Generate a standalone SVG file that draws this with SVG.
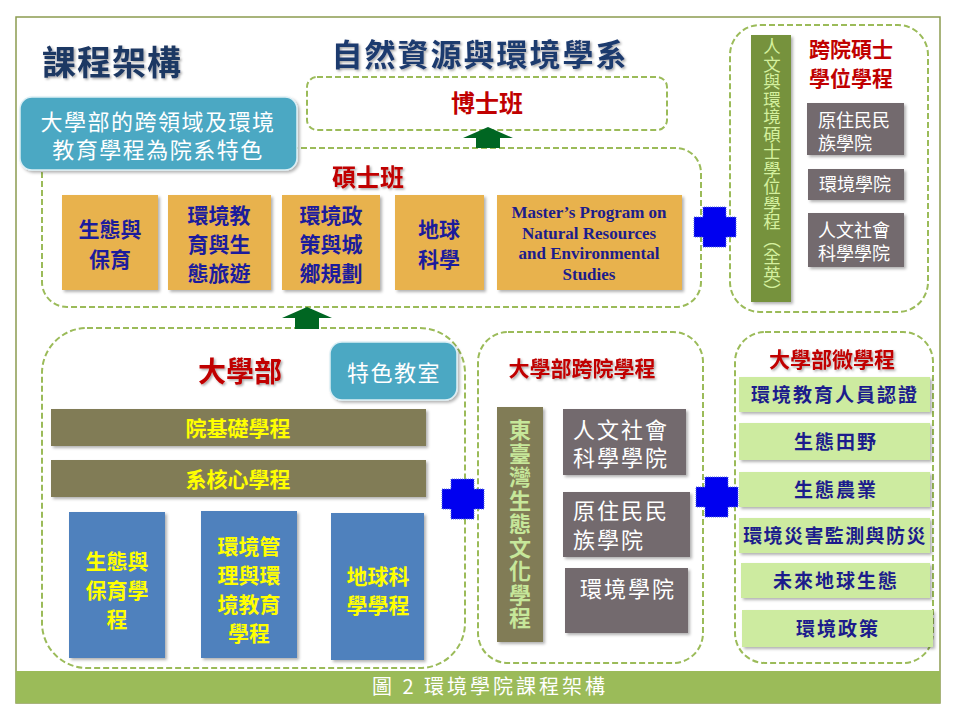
<svg xmlns="http://www.w3.org/2000/svg" width="960" height="720" viewBox="0 0 960 720">
<defs>
<filter id="sh" x="-10%" y="-10%" width="130%" height="130%">
<feDropShadow dx="2" dy="2" stdDeviation="1.5" flood-color="#000" flood-opacity="0.3"/>
</filter>
<filter id="tsh" x="-10%" y="-20%" width="130%" height="150%">
<feDropShadow dx="1.5" dy="1.5" stdDeviation="1" flood-color="#000" flood-opacity="0.35"/>
</filter>
<path id="plus" d="M-21,-10 H-12 V-20 H11 V-10 H21 V10 H11 V20 H-12 V10 H-21 Z"/>
</defs>
<style>
text{font-family:"Noto Sans CJK TC","Noto Sans CJK SC",sans-serif}
.dash{fill:#fff;stroke:#9BBB59;stroke-width:2;stroke-dasharray:6 3}
.red{fill:#C00000;font-weight:bold;text-anchor:middle}
.org{fill:#E8B24E;filter:url(#sh)}
.ot{fill:#1C1C9C;font-size:21px;font-weight:bold;text-anchor:middle}
.mt{fill:#1C1C8C;font-family:"Liberation Serif",serif;font-size:17px;font-weight:bold;text-anchor:middle}
.gray{fill:#736A6E;filter:url(#sh)}
.wt{fill:#fff}
.olive{fill:#817C57;filter:url(#sh)}
.blue{fill:#4F81BD;filter:url(#sh)}
.yt{fill:#FFFF00;font-weight:bold;font-size:21px;text-anchor:middle}
.lg{fill:#CDEBA0;filter:url(#sh)}
.lt{fill:#1C1C8C;font-weight:bold;text-anchor:middle;font-size:19px}
.cyan{fill:#4BA8C3;stroke:#DDEFF5;stroke-width:1.5;filter:url(#sh)}
.pl{fill:#0000F0;stroke:#5A6EE0;stroke-width:1;stroke-dasharray:1 1}
.arr{fill:#006622}
</style>
<rect width="960" height="720" fill="#fff"/>
<rect x="16" y="17" width="924" height="686" fill="#fff" stroke="#8C9C50" stroke-width="1.5"/>
<rect x="16" y="671" width="924" height="32" fill="#9BBB59"/>
<text x="490" y="694" font-size="20" fill="#fff" text-anchor="middle" letter-spacing="3">圖 2 環境學院課程架構</text>

<g id="title">
<text x="42" y="75" font-size="34" font-weight="bold" fill="#1F3864" filter="url(#tsh)" letter-spacing="1">課程架構</text>
<text x="480" y="66" font-size="31" font-weight="bold" fill="#1F3A6E" text-anchor="middle" letter-spacing="2" filter="url(#tsh)">自然資源與環境學系</text>
</g>

<g id="phd">
<rect class="dash" x="307" y="77" width="360" height="53" rx="10"/>
<text class="red" x="487" y="112" font-size="24">博士班</text>
</g>

<g id="master">
<rect class="dash" x="42" y="148" width="659" height="159" rx="25"/>
<text class="red" x="368" y="186" font-size="24" filter="url(#tsh)">碩士班</text>
<g id="m1"><rect class="org" x="62" y="195" width="96" height="95"/>
<text class="ot" x="110" y="237">生態與</text><text class="ot" x="110" y="267">保育</text></g>
<g id="m2"><rect class="org" x="168" y="195" width="103" height="95"/>
<text class="ot" x="219" y="223">環境教</text><text class="ot" x="219" y="252">育與生</text><text class="ot" x="219" y="281">態旅遊</text></g>
<g id="m3"><rect class="org" x="282" y="195" width="98" height="95"/>
<text class="ot" x="331" y="223">環境政</text><text class="ot" x="331" y="252">策與城</text><text class="ot" x="331" y="281">鄉規劃</text></g>
<g id="m4"><rect class="org" x="395" y="195" width="89" height="95"/>
<text class="ot" x="439" y="237">地球</text><text class="ot" x="439" y="267">科學</text></g>
<g id="m5"><rect class="org" x="497" y="195" width="185" height="95"/>
<text class="mt" x="589" y="218">Master’s Program on</text><text class="mt" x="589" y="239">Natural Resources</text><text class="mt" x="589" y="259">and Environmental</text><text class="mt" x="589" y="280">Studies</text></g>
</g>

<g id="callout">
<rect class="cyan" x="20" y="97" width="277" height="73" rx="12"/>
<text x="158" y="130" font-size="22" fill="#fff" text-anchor="middle" letter-spacing="1.5">大學部的跨領域及環境</text>
<text x="158" y="158" font-size="22" fill="#fff" text-anchor="middle" letter-spacing="1.5">教育學程為院系特色</text>
</g>

<g id="crossmaster">
<rect class="dash" x="730" y="25" width="198" height="287" rx="30"/>
<rect x="751" y="35" width="40" height="267" fill="#76923C" filter="url(#sh)"/>
<text x="772" y="38" font-size="17.5" fill="#D4F09E" writing-mode="vertical-rl">人文與環境碩士學位學程（全英）</text>
<text class="red" x="851" y="57" font-size="21">跨院碩士</text>
<text class="red" x="851" y="86" font-size="21">學位學程</text>
<g id="c1"><rect class="gray" x="807" y="103" width="97" height="52"/>
<text class="wt" x="818" y="127" font-size="18">原住民民</text><text class="wt" x="818" y="150" font-size="18">族學院</text></g>
<g id="c2"><rect class="gray" x="808" y="169" width="96" height="31"/>
<text class="wt" x="819" y="191" font-size="18">環境學院</text></g>
<g id="c3"><rect class="gray" x="808" y="213" width="96" height="54"/>
<text class="wt" x="818" y="237" font-size="18">人文社會</text><text class="wt" x="818" y="260" font-size="18">科學學院</text></g>
</g>

<g id="undergrad">
<rect class="dash" x="42" y="328" width="423" height="340" rx="45"/>
<text class="red" x="240" y="382" font-size="28" filter="url(#tsh)">大學部</text>
<g id="classroom"><rect class="cyan" x="330" y="342" width="127" height="58" rx="12"/>
<text x="394" y="381" font-size="22" fill="#fff" text-anchor="middle" letter-spacing="1.5">特色教室</text></g>
<g id="u1"><rect class="olive" x="51" y="409" width="375" height="37"/><text class="yt" x="238" y="436">院基礎學程</text></g>
<g id="u2"><rect class="olive" x="51" y="460" width="375" height="37"/><text class="yt" x="238" y="487">系核心學程</text></g>
<g id="u3"><rect class="blue" x="69" y="512" width="96" height="146"/>
<text class="yt" x="117" y="569" font-size="22">生態與</text><text class="yt" x="117" y="598" font-size="22">保育學</text><text class="yt" x="117" y="627" font-size="22">程</text></g>
<g id="u4"><rect class="blue" x="201" y="511" width="96" height="147"/>
<text class="yt" x="249" y="554" font-size="22">環境管</text><text class="yt" x="249" y="583" font-size="22">理與環</text><text class="yt" x="249" y="612" font-size="22">境教育</text><text class="yt" x="249" y="641" font-size="22">學程</text></g>
<g id="u5"><rect class="blue" x="331" y="513" width="93" height="147"/>
<text class="yt" x="378" y="584" font-size="22">地球科</text><text class="yt" x="378" y="613" font-size="22">學學程</text></g>
</g>

<g id="crossug">
<rect class="dash" x="478" y="332" width="225" height="331" rx="30"/>
<text class="red" x="582" y="376" font-size="21" filter="url(#tsh)">大學部跨院學程</text>
<rect class="olive" x="497" y="407" width="46" height="235"/>
<text x="520" y="419" font-size="22" fill="#C6E79A" font-weight="bold" letter-spacing="1.5" writing-mode="vertical-rl">東臺灣生態文化學程</text>
<g id="x1"><rect class="gray" x="563" y="409" width="123" height="66"/>
<text class="wt" x="573" y="438" font-size="22" letter-spacing="2">人文社會</text><text class="wt" x="573" y="466" font-size="22" letter-spacing="2">科學學院</text></g>
<g id="x2"><rect class="gray" x="563" y="492" width="127" height="65"/>
<text class="wt" x="573" y="519" font-size="22" letter-spacing="2">原住民民</text><text class="wt" x="573" y="548" font-size="22" letter-spacing="2">族學院</text></g>
<g id="x3"><rect class="gray" x="565" y="568" width="123" height="65"/>
<text class="wt" x="580" y="597" font-size="22" letter-spacing="2">環境學院</text></g>
</g>

<g id="micro">
<rect class="dash" x="735" y="332" width="198" height="331" rx="30"/>
<text class="red" x="832" y="367" font-size="21" filter="url(#tsh)">大學部微學程</text>
<g><rect class="lg" x="739" y="377" width="191" height="35"/><text class="lt" x="835" y="402" font-size="18.5" letter-spacing="2">環境教育人員認證</text></g>
<g><rect class="lg" x="739" y="423" width="191" height="37"/><text class="lt" x="836" y="449" letter-spacing="2">生態田野</text></g>
<g><rect class="lg" x="739" y="472" width="191" height="35"/><text class="lt" x="836" y="497" letter-spacing="2">生態農業</text></g>
<g><rect class="lg" x="739" y="518" width="191" height="35"/><text class="lt" x="835" y="543" font-size="17" letter-spacing="1.4">環境災害監測與防災</text></g>
<g><rect class="lg" x="741" y="563" width="189" height="35"/><text class="lt" x="836" y="588" letter-spacing="2">未來地球生態</text></g>
<g><rect class="lg" x="742" y="610" width="191" height="37"/><text class="lt" x="838" y="636" letter-spacing="2">環境政策</text></g>
</g>

<g id="connectors">
<polygon class="arr" points="488,127 513,138 500,138 500,148 476,148 476,138 463,138"/>
<polygon class="arr" points="307,307 332,318 319,318 319,329 295,329 295,318 282,318"/>
<use href="#plus" class="pl" transform="translate(715,227)"/>
<use href="#plus" class="pl" transform="translate(463,499)"/>
<use href="#plus" class="pl" transform="translate(717,497)"/>
</g>
</svg>
